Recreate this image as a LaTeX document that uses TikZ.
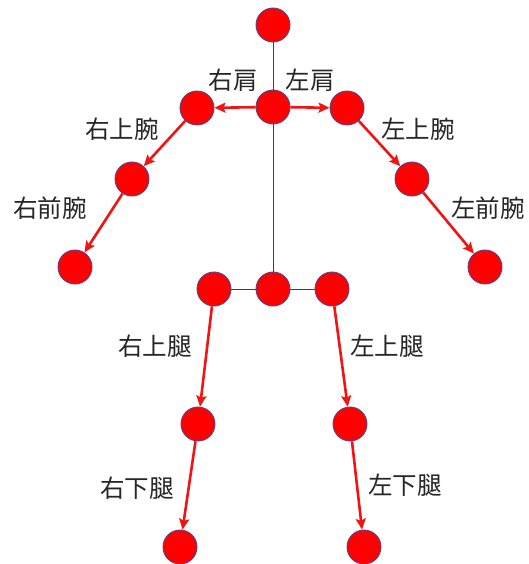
\documentclass[tikz,border=0pt]{standalone}
\usepackage{fontspec}
\newfontfamily\cjk{Noto Sans CJK JP}
\usetikzlibrary{arrows.meta}
\definecolor{jointred}{RGB}{255,0,0}
\definecolor{jointedge}{RGB}{80,70,140}
\definecolor{bonered}{RGB}{240,20,20}
\begin{document}
\begin{tikzpicture}[x=1pt,y=-1pt,
  joint/.style={circle,fill=jointred,draw=jointedge,line width=0.9pt,minimum size=34pt,inner sep=0pt},
  bone/.style={draw=bonered,line width=2.6pt,-{Stealth[length=11pt,width=10pt,inset=2pt]},shorten >=0pt},
  spine/.style={draw=black!75,line width=0.8pt},
  lbl/.style={font=\cjk\fontsize{24.5}{28}\selectfont,text=black!85,inner sep=0pt}]
\useasboundingbox (0,0) rectangle (528,564);
% spine lines first (behind joints)
\coordinate (headc) at (273,25);
\coordinate (neckc) at (273,107);
\coordinate (midhipc) at (273,289);
\draw[spine] (headc) -- (midhipc);
\draw[spine] (214,289) coordinate (rhipc) -- (332,289) coordinate (lhipc);
% joints
\node[joint] (head) at (headc) {};
\node[joint] (neck) at (neckc) {};
\node[joint] (rsh) at (197,108) {};
\node[joint] (lsh) at (347,108) {};
\node[joint] (rel) at (132,179) {};
\node[joint] (lel) at (412,179) {};
\node[joint] (rwr) at (75,267) {};
\node[joint] (lwr) at (485,267) {};
\node[joint] (rhip) at (rhipc) {};
\node[joint] (midhip) at (midhipc) {};
\node[joint] (lhip) at (lhipc) {};
\node[joint] (rkn) at (198,424) {};
\node[joint] (lkn) at (350,424) {};
\node[joint] (ran) at (180,547) {};
\node[joint] (lan) at (364,547) {};
% bones
\draw[bone] (neck) -- (rsh);
\draw[bone] (neck) -- (lsh);
\draw[bone] (rsh) -- (rel);
\draw[bone] (rel) -- (rwr);
\draw[bone] (lsh) -- (lel);
\draw[bone] (lel) -- (lwr);
\draw[bone] (rhip) -- (rkn);
\draw[bone] (rkn) -- (ran);
\draw[bone] (lhip) -- (lkn);
\draw[bone] (lkn) -- (lan);
% labels
\node[lbl] (t1) at (233,80) {右肩};
\node[lbl] (t2) at (310,80) {左肩};
\node[lbl] (t3) at (122,129) {右上腕};
\node[lbl] (t4) at (50,208) {右前腕};
\node[lbl] (t5) at (418,129) {左上腕};
\node[lbl] (t6) at (488,208) {左前腕};
\node[lbl] (t7) at (155,346) {右上腿};
\node[lbl] (t8) at (387,346) {左上腿};
\node[lbl] (t9) at (137,488) {右下腿};
\node[lbl] (t10) at (405,485) {左下腿};
\end{tikzpicture}
\end{document}
